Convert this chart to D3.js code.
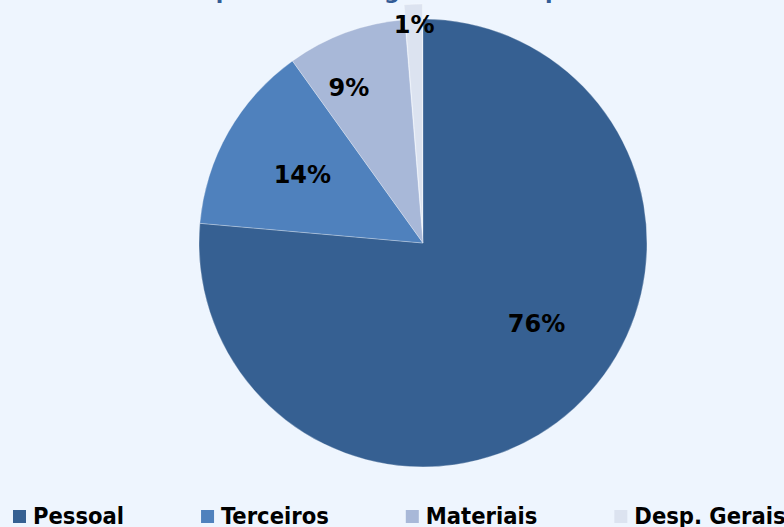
<!DOCTYPE html>
<html>
<head>
<meta charset="utf-8">
<script src="https://cdn.jsdelivr.net/npm/d3@7"></script>
<style>
  body { margin:0; background:#EEF5FE; }
  svg { display:block; }
</style>
</head>
<body>
<div id="chart"></div>
<script>
// dados do grafico
var categorias = ['Pessoal', 'Terceiros', 'Materiais', 'Desp. Gerais'];
var valores = [76.4, 13.7, 8.6, 1.3];
var rotulos = ['76%', '14%', '9%', '1%'];
var cores = ['#366092', '#4F81BD', '#A8B8D8', '#DCE3F0'];
var titulo = 'Despesa em Categorias da Empresa';

var w = 784;
var h = 527;
var cx = 423, cy = 243, R = 224;

var svg = d3.select("#chart")
    .append("svg")
    .attr("width", w)
    .attr("height", h);

svg.append("rect")
    .attr("width", w).attr("height", h)
    .attr("fill", "#EEF5FE");

// titulo (cortado no topo, como no original)
svg.append("text")
    .text(titulo)
    .attr("x", 392)
    .attr("y", -1.5)
    .attr("text-anchor", "middle")
    .attr("font-family", "DejaVu Sans")
    .attr("font-weight", "bold")
    .attr("font-size", "22px")
    .attr("fill", "#335C96");

var dataset = categorias.map(function(c, i){
    return {cat: c, valor: valores[i], rotulo: rotulos[i], cor: cores[i], idx: i};
});

var pie = d3.pie()
    .value(function(d){ return d.valor; })
    .sort(null);

var arc = d3.arc().innerRadius(0).outerRadius(R);

var arcs = pie(dataset);

var g = svg.append("g")
    .attr("transform", "translate(" + cx + "," + cy + ")");

// fatia destacada (a ultima, Desp. Gerais)
function deslocamento(d){
    if (d.data.idx != 3) return [0, 0];
    var a = (d.startAngle + d.endAngle) / 2;
    return [Math.sin(a) * 15, -Math.cos(a) * 15];
}

g.selectAll(".fatia")
    .data(arcs)
    .enter()
    .append("path")
    .attr("class", "fatia")
    .attr("d", arc)
    .attr("fill", function(d){ return d.data.cor; })
    .attr("stroke", "rgba(255,255,255,0.35)")
    .attr("stroke-width", 0.8)
    .attr("transform", function(d){
        var o = deslocamento(d);
        return "translate(" + o[0] + "," + o[1] + ")";
    });

// rotulos dos percentuais (posicao "melhor ajuste" aproximada)
g.selectAll(".rotulo")
    .data(arcs)
    .enter()
    .append("text")
    .attr("class", "rotulo")
    .text(function(d){ return d.data.rotulo; })
    .attr("transform", function(d){
        var f = 0.5;
        if (d.data.valor > 50) f = 0.455;
        else if (d.data.valor > 5 && d.data.valor < 10) f = 0.33;
        var a = d.startAngle + (d.endAngle - d.startAngle) * f;
        var r;
        if (d.data.valor >= 10) r = R * 0.62;
        else if (d.data.valor >= 5) r = R * 0.77;
        else r = R * 0.91;
        var o = deslocamento(d);
        return "translate(" + (Math.sin(a) * r + o[0]) + "," + (-Math.cos(a) * r + o[1]) + ")";
    })
    .attr("text-anchor", "middle")
    .attr("dy", "0.36em")
    .attr("font-family", "DejaVu Sans")
    .attr("font-weight", "bold")
    .attr("font-size", "24px")
    .attr("fill", "black");

// legenda
var leg = svg.append("g");
var xpos = 0;
for (var i = 0; i < dataset.length; i++)
{
    leg.append("rect")
        .attr("x", xpos)
        .attr("y", 510)
        .attr("width", 13)
        .attr("height", 13)
        .attr("fill", cores[i]);
    var t = leg.append("text")
        .text(categorias[i])
        .attr("x", xpos + 20)
        .attr("y", 524)
        .attr("font-family", "DejaVu Sans Condensed, DejaVu Sans")
        .attr("font-weight", "bold")
        .attr("font-size", "23.5px")
        .attr("fill", "black");
    xpos += 20 + t.node().getComputedTextLength() + 77;
}
leg.attr("transform", "translate(13,0)");
</script>
</body>
</html>
